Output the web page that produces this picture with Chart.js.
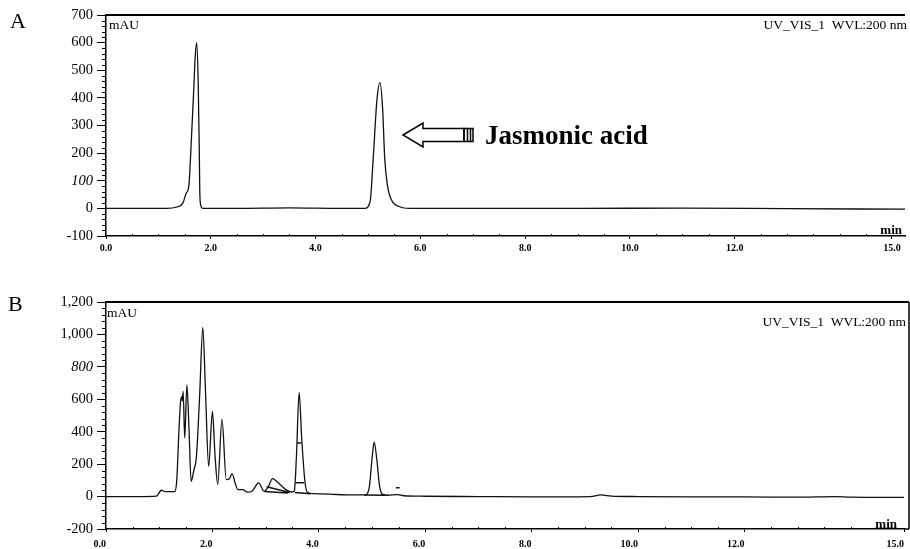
<!DOCTYPE html>
<html>
<head>
<meta charset="utf-8">
<script src="https://cdn.jsdelivr.net/npm/chart.js@4.4.0/dist/chart.umd.min.js"></script>
<style>
  body { margin: 0; background: #fff; }
  #wrap { position: relative; width: 910px; height: 549px; }
  canvas { position: absolute; left: 0; }
  #chartA { top: 0; }
  #chartB { top: 280px; }
</style>
</head>
<body>
<div id="wrap">
  <canvas id="chartA" width="910" height="262"></canvas>
  <canvas id="chartB" width="910" height="269"></canvas>
</div>
<script>
// panel A: standard (min, mAU)
var timesA  = [0, 0.5, 1.0, 1.16, 1.35, 1.47, 1.53, 1.58, 1.63, 1.67, 1.70, 1.73, 1.76, 1.78, 1.79, 1.81, 1.85,
               2.5, 3.5, 4.5, 4.94, 5.04, 5.10, 5.17, 5.23, 5.28, 5.32, 5.37, 5.45, 5.61, 5.8,
               7, 9, 11, 13, 15.25];
var valuesA = [0, 0, 0, 0, 5, 20, 55, 80, 250, 410, 540, 600, 455, 215, 60, 10, 0,
               0, 2, 0, 0, 24, 180, 390, 455, 360, 180, 85, 30, 6, 0,
               0, 0, 1, -1, -3];

// panel B: sample extract
var timesB  = [0, 0.6, 0.95, 1.04, 1.12, 1.29, 1.33, 1.37, 1.40, 1.42, 1.435, 1.45, 1.48, 1.52, 1.56, 1.60,
               1.65, 1.70, 1.76, 1.82, 1.87, 1.93, 2.00, 2.05, 2.10, 2.18, 2.26, 2.32, 2.37, 2.43, 2.48,
               2.57, 2.66, 2.75, 2.87, 2.97, 3.05, 3.13, 3.22, 3.38, 3.50, 3.54, 3.58, 3.63, 3.68, 3.74,
               3.79, 3.9, 4.2, 4.6, 4.88, 4.95, 5.0, 5.04, 5.09, 5.14, 5.19, 5.3, 5.48, 5.6, 6.0,
               7, 8, 9.1, 9.3, 9.5, 10, 11, 12, 13, 13.7, 14, 15];
var valuesB = [0, 0, 3, 39, 30, 30, 100, 400, 580, 617, 590, 648, 361, 689, 420, 94,
               160, 248, 620, 1044, 650, 186, 525, 250, 74, 478, 105, 110, 141, 80, 43,
               43, 27, 35, 84, 33, 60, 111, 90, 43, 28, 35, 250, 642, 350, 90,
               25, 18, 15, 10, 10, 60, 230, 336, 230, 70, 15, 8, 12, 5, 2,
               0, -2, 0, 10, 3, 0, -2, -2, -4, 0, -3, -5];

// integration marks in panel B (null = break)
var marksBx = [2.98, 3.42, null, 3.02, 3.45, null, 3.55, 3.85, null, 3.59, 3.67, null, 3.56, 3.72, null, 4.85, 5.25, null, 5.45, 5.52];
var marksBy = [32, 22, null, 60, 25, null, 25, 18, null, 330, 330, null, 86, 86, null, 10, 8, null, 55, 55];

var xTickValues = [0, 2, 4, 6, 8, 10, 12, 15];

var serif = "'Liberation Serif', 'Times New Roman', serif";

function toPoints(xs, ys) {
    return xs.map(function(x, i) { return { x: x, y: ys[i] }; });
}

function line(ctx, x1, y1, x2, y2) {
    ctx.beginPath();
    ctx.moveTo(x1, y1);
    ctx.lineTo(x2, y2);
    ctx.stroke();
}

function drawArrow(ctx) {
    ctx.save();
    ctx.lineWidth = 1.5;
    ctx.strokeStyle = '#000';
    ctx.fillStyle = '#fff';
    ctx.beginPath();
    ctx.moveTo(403, 135);
    ctx.lineTo(423, 123);
    ctx.lineTo(423, 128.5);
    ctx.lineTo(464, 128.5);
    ctx.lineTo(464, 141.5);
    ctx.lineTo(423, 141.5);
    ctx.lineTo(423, 147);
    ctx.closePath();
    ctx.fill();
    ctx.stroke();
    ctx.strokeRect(464, 128.5, 9, 13);
    line(ctx, 467.5, 129, 467.5, 141);
    line(ctx, 470.5, 129, 470.5, 141);
    ctx.restore();
}

function decoPlugin(opts) {
    return {
        id: 'deco',
        afterDraw: function(chart) {
            var ctx = chart.ctx;
            var a = chart.chartArea;
            var x = chart.scales.x, y = chart.scales.y;
            ctx.save();
            ctx.strokeStyle = '#000';
            ctx.lineWidth = 2;
            line(ctx, a.left - 1, a.top, opts.rightEdge, a.top);
            if (opts.rightBorder) {
                ctx.lineWidth = 1.5;
                line(ctx, opts.rightEdge, a.top, opts.rightEdge, a.bottom);
                line(ctx, a.right, a.bottom, opts.rightEdge, a.bottom);
            }
            // minor ticks on the y axis
            ctx.lineWidth = 1;
            for (var v = y.min; v <= y.max; v += opts.minorY) {
                if (Math.abs(v % opts.majorY) < 1e-6) continue;
                var py = Math.round(y.getPixelForValue(v)) + 0.5;
                line(ctx, a.left - 4, py, a.left, py);
            }
            // small ticks on the time axis
            for (var t = 0.5; t < 15; t += 0.5) {
                if (xTickValues.indexOf(t) >= 0) continue;
                var px = Math.round(x.getPixelForValue(t)) + 0.5;
                line(ctx, px, a.bottom, px, a.bottom - 2);
            }
            ctx.fillStyle = '#000';
            ctx.textBaseline = 'alphabetic';
            opts.texts.forEach(function(tx) {
                ctx.font = tx.font;
                ctx.textAlign = tx.align || 'left';
                ctx.fillText(tx.text, tx.x, tx.y);
            });
            if (opts.arrow) drawArrow(ctx);
            ctx.restore();
        }
    };
}

function makeChart(id, cfg) {
    var datasets = [{
        data: toPoints(cfg.times, cfg.values),
        borderColor: '#111',
        borderWidth: 1.3,
        pointRadius: 0,
        cubicInterpolationMode: 'monotone',
        fill: false
    }];
    if (cfg.marksX) {
        datasets.push({
            data: cfg.marksX.map(function(mx, i) { return { x: mx, y: cfg.marksY[i] }; }),
            borderColor: '#111',
            borderWidth: 1.5,
            pointRadius: 0,
            spanGaps: false,
            fill: false
        });
    }
    return new Chart(document.getElementById(id).getContext('2d'), {
        type: 'line',
        data: { datasets: datasets },
        options: {
            responsive: false,
            animation: false,
            layout: { padding: { top: cfg.padTop, right: cfg.padRight, left: 0, bottom: 0 } },
            plugins: { legend: { display: false }, tooltip: { enabled: false } },
            scales: {
                x: {
                    type: 'linear',
                    min: 0,
                    max: cfg.xMax,
                    afterBuildTicks: function(scale) {
                        scale.ticks = xTickValues.map(function(v) { return { value: v }; });
                    },
                    afterFit: function(scale) { scale.height = cfg.xHeight; },
                    border: { display: true, color: '#000', width: 1.5 },
                    grid: { drawOnChartArea: false, color: '#000', tickLength: 3 },
                    ticks: {
                        autoSkip: false,
                        maxRotation: 0,
                        align: cfg.xAlign,
                        padding: cfg.xPad,
                        color: '#000',
                        font: { family: serif, size: 10, weight: 'bold' },
                        callback: function(v) { return Number(v).toFixed(1); }
                    }
                },
                y: {
                    min: cfg.yMin,
                    max: cfg.yMax,
                    afterFit: function(scale) { scale.width = 106; },
                    border: { display: true, color: '#000', width: 1.5 },
                    grid: { drawOnChartArea: false, color: '#000', tickLength: 9 },
                    ticks: {
                        stepSize: cfg.yStep,
                        padding: 4,
                        color: '#000',
                        font: function(c) {
                            var it = c.tick && cfg.italic.indexOf(c.tick.value) >= 0;
                            return { family: serif, size: 14.5, style: it ? 'italic' : 'normal' };
                        },
                        callback: function(v) { return Number(v).toLocaleString('en-US'); }
                    }
                }
            }
        },
        plugins: [decoPlugin(cfg.deco)]
    });
}

makeChart('chartA', {
    times: timesA, values: valuesA,
    xMax: 15.25, xHeight: 26, xAlign: 'center', xPad: 3,
    yMin: -100, yMax: 700, yStep: 100, italic: [100],
    padTop: 15, padRight: 5,
    deco: {
        minorY: 20, majorY: 100, rightBorder: false, rightEdge: 905, arrow: true,
        texts: [
            { text: 'A', x: 10, y: 28, font: '22px ' + serif },
            { text: 'mAU', x: 109, y: 29, font: '13.5px ' + serif },
            { text: 'UV_VIS_1  WVL:200 nm', x: 907, y: 29, align: 'right', font: '13.5px ' + serif },
            { text: 'min', x: 902, y: 234, align: 'right', font: 'bold 13px ' + serif },
            { text: 'Jasmonic acid', x: 485, y: 144, font: 'bold 27px ' + serif }
        ]
    }
});

makeChart('chartB', {
    times: timesB, values: valuesB, marksX: marksBx, marksY: marksBy,
    xMax: 15, xHeight: 20, xAlign: 'end', xPad: 6,
    yMin: -200, yMax: 1200, yStep: 200, italic: [800],
    padTop: 22, padRight: 4,
    deco: {
        minorY: 40, majorY: 200, rightBorder: true, rightEdge: 909, arrow: false,
        texts: [
            { text: 'B', x: 8, y: 31, font: '22px ' + serif },
            { text: 'mAU', x: 107, y: 37, font: '13.5px ' + serif },
            { text: 'UV_VIS_1  WVL:200 nm', x: 906, y: 46, align: 'right', font: '13.5px ' + serif },
            { text: 'min', x: 897, y: 248, align: 'right', font: 'bold 13px ' + serif }
        ]
    }
});
</script>
</body>
</html>
